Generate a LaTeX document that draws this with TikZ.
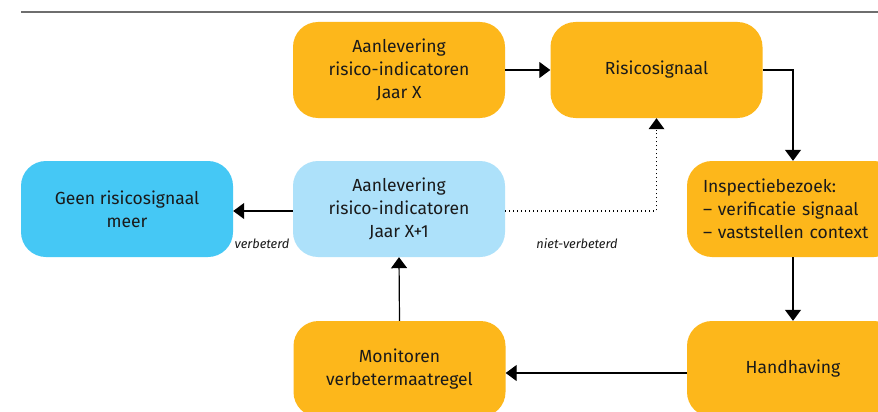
\documentclass[tikz,border=0pt]{standalone}
\usepackage{fontspec}
\setmainfont{Fira Sans}
\usetikzlibrary{arrows.meta,positioning}
\definecolor{rorange}{HTML}{FDB71B}
\definecolor{rlight}{HTML}{ADE1FA}
\definecolor{rblue}{HTML}{45C8F5}
\definecolor{rtext}{HTML}{1A1A1A}
\definecolor{rrule}{HTML}{6E6E6E}
\tikzset{
  box/.style={rectangle, rounded corners=25pt, minimum width=212pt, minimum height=96pt,
    inner sep=4pt, align=center, text=rtext,
    font=\fontsize{17.5}{23}\selectfont},
  orangebox/.style={box, fill=rorange},
  lightbox/.style={box, fill=rlight},
  bluebox/.style={box, fill=rblue},
  conn/.style={line width=1.2pt, draw=black},
  arr/.style={conn, -{Triangle[width=16pt,length=11pt]}},
  dotline/.style={line width=1.1pt, dash pattern=on 1.1pt off 2.9pt},
  lbl/.style={font=\fontsize{12.8}{15}\selectfont\itshape, text=rtext, inner sep=0pt}
}
\begin{document}
\begin{tikzpicture}[x=1pt,y=-1pt]
\useasboundingbox (0,0) rectangle (878,412);
\clip (0,0) rectangle (878,412);
\fill[white] (0,0) rectangle (878,412);
\draw[rrule, line width=1.4pt] (21,12) coordinate (ruleL) -- (878,12) coordinate (ruleR);

\node[orangebox] (A) at (399,70) {Aanlevering\\risico-indicatoren\\Jaar X};
\node[orangebox] (R) at (656.5,70) {Risicosignaal};
\node[orangebox, text width=180pt, align=left, inner xsep=16pt] (I) at (793,209)
  {Inspectiebezoek:\\– verificatie signaal\\– vaststellen context};
\node[orangebox] (H) at (793,369) {Handhaving};
\node[orangebox] (M) at (399.5,369) {Monitoren\\verbetermaatregel};
\node[lightbox] (L) at (399,209) {Aanlevering\\risico-indicatoren\\Jaar X+1};
\node[bluebox] (G) at (127,209) {Geen risicosignaal\\meer};

\draw[arr] (A.east) -- (R.west);
\draw[arr] (R.east) -| (I.north);
\draw[arr] (I.south) -- (H.north);
\draw[arr] ([yshift=-4pt]H.west) -- ([yshift=-4pt]M.east);
\draw[arr] (M.north) -- (L.south);
\draw[arr] ([yshift=-2pt]L.west) -- ([yshift=-2pt]G.east);
\draw[dotline] ([yshift=-2pt]L.east) -| ([yshift=-12pt]R.south);
\fill[black] (R.south) -- ++(-8,11) -- ++(16,0) -- cycle;

\node[lbl] (lv) at (262,244) {verbeterd};
\node[lbl] (lnv) at (577,244) {niet-verbeterd};
\end{tikzpicture}
\end{document}
